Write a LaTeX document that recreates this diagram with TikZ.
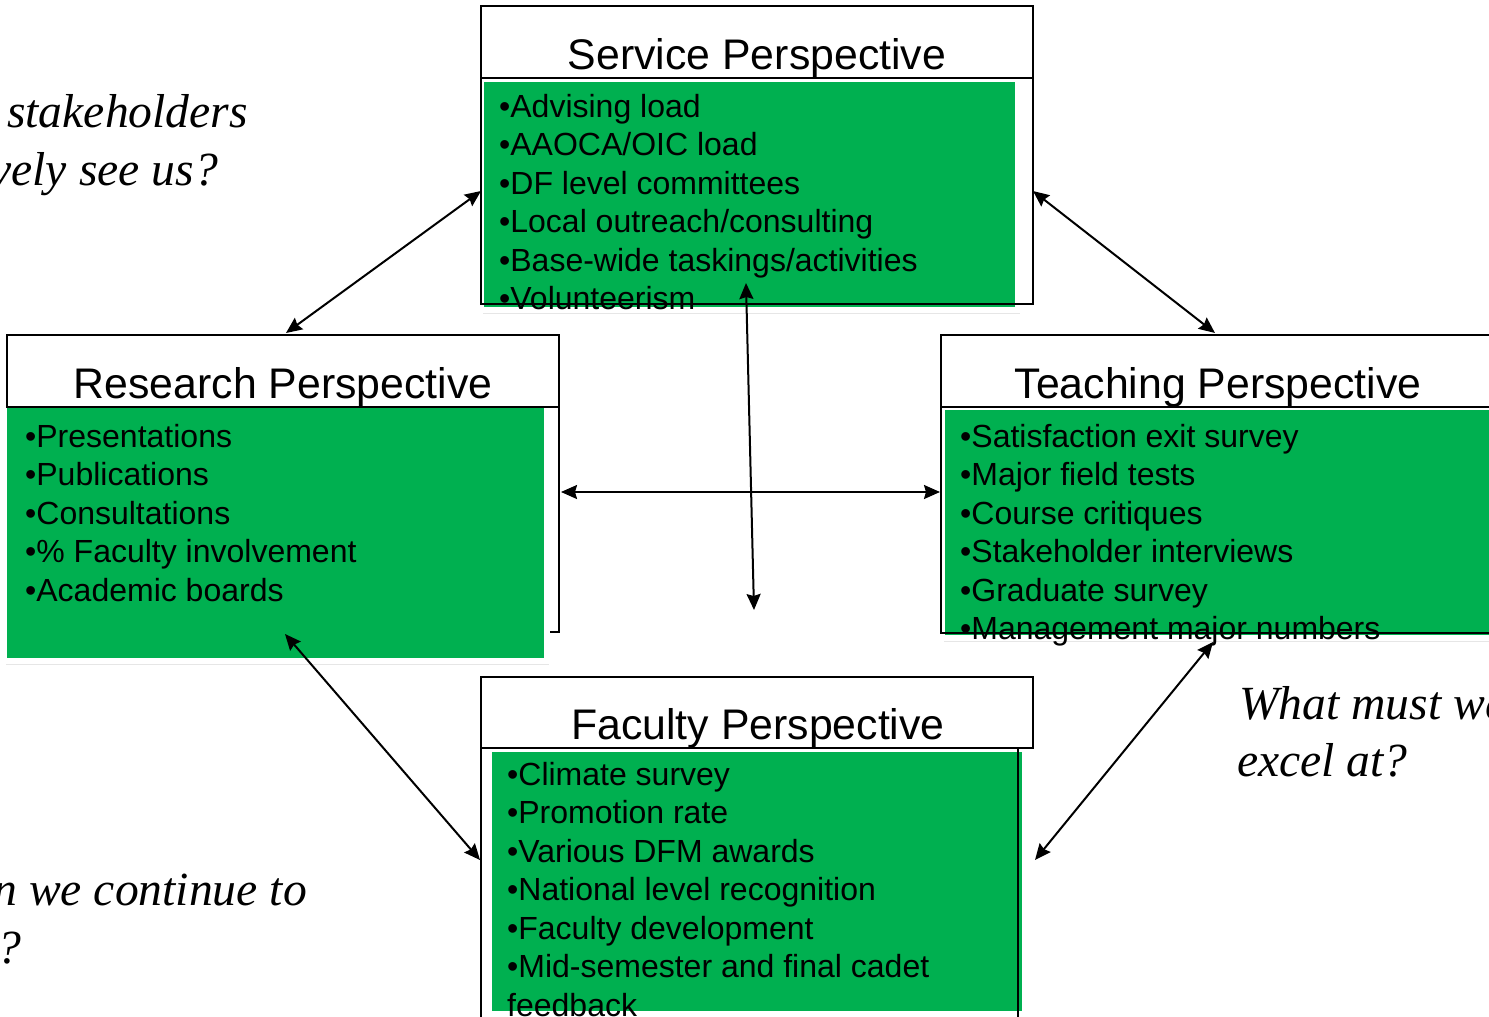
\documentclass[tikz,border=0pt]{standalone}
\usepackage{fontspec}
\setmainfont{Liberation Serif}
\setsansfont{Liberation Sans}
\usetikzlibrary{arrows.meta,shadows}
\definecolor{boxgreen}{RGB}{0,176,80}
\begin{document}
\begin{tikzpicture}[x=1pt,y=-1pt,
  frame/.style={draw=black, line width=1.4pt, inner sep=0pt, outer sep=0pt, anchor=north west},
  titlebox/.style={frame, fill=white},
  greenbox/.style={fill=boxgreen, draw=white, line width=6pt, inner sep=0pt, outer sep=0pt, anchor=north west,
    drop shadow={shadow xshift=2pt, shadow yshift=-4pt, opacity=0.2}},
  heading/.style={font=\sffamily\fontsize{42.8}{50}\selectfont, anchor=base, inner sep=0pt},
  items/.style={font=\sffamily\fontsize{32}{38.5}\selectfont, align=left, anchor=north west, inner sep=0pt},
  question/.style={font=\itshape\fontsize{47.6}{56}\selectfont, inner sep=0pt},
  link/.style={line width=2pt, {Stealth[length=16pt,width=14pt,inset=2pt]}-{Stealth[length=16pt,width=14pt,inset=2pt]}},
]
\useasboundingbox (0,0) rectangle (1489,1017);
\clip (0,0) rectangle (1489,1017);

% Service perspective (top)
\node[greenbox, minimum width=537pt, minimum height=231pt] (svc-green) at (481,79) {};
\node[titlebox, minimum width=552pt, minimum height=72pt] (svc-title) at (481,6) {};
\node[frame, minimum width=552pt, minimum height=226pt] (svc-frame) at (481,78) {};
\node[heading] (svc-head) at (757,69) {Service Perspective};
\node[items] (svc-list) at (499,94) {\textbullet Advising load\\\textbullet AAOCA/OIC load\\\textbullet DF level committees\\\textbullet Local outreach/consulting\\\textbullet Base-wide taskings/activities\\\textbullet Volunteerism};

% Research perspective (left)
\node[frame, minimum width=552pt, minimum height=225pt] (res-frame) at (7,407) {};
\node[greenbox, minimum width=543pt, minimum height=257pt] (res-green) at (4,404) {};
\node[titlebox, minimum width=552pt, minimum height=72pt] (res-title) at (7,335) {};
\node[heading] (res-head) at (283,398) {Research Perspective};
\node[items] (res-list) at (25,424) {\textbullet Presentations\\\textbullet Publications\\\textbullet Consultations\\\textbullet \% Faculty involvement\\\textbullet Academic boards};

% Teaching perspective (right)
\node[greenbox, minimum width=560pt, minimum height=231pt] (tch-green) at (942,407) {};
\node[titlebox, minimum width=552pt, minimum height=72pt] (tch-title) at (941,335) {};
\node[frame, minimum width=552pt, minimum height=226pt] (tch-frame) at (941,407) {};
\node[heading] (tch-head) at (1218,398) {Teaching Perspective};
\node[items] (tch-list) at (960,424) {\textbullet Satisfaction exit survey\\\textbullet Major field tests\\\textbullet Course critiques\\\textbullet Stakeholder interviews\\\textbullet Graduate survey\\\textbullet Management major numbers};

% Faculty perspective (bottom)
\node[greenbox, minimum width=536pt, minimum height=265pt] (fac-green) at (489,749) {};
\node[titlebox, minimum width=552pt, minimum height=71pt] (fac-title) at (481,677) {};
\node[frame, minimum width=537pt, minimum height=300pt] (fac-frame) at (481,748) {};
\node[heading] (fac-head) at (758,739) {Faculty Perspective};
\node[items] (fac-list) at (507,762) {\textbullet Climate survey\\\textbullet Promotion rate\\\textbullet Various DFM awards\\\textbullet National level recognition\\\textbullet Faculty development\\\textbullet Mid-semester and final cadet\\feedback};

% Guiding questions
\node[question, anchor=base west] (q-stake1) at (7,127) {stakeholders};
\node[question, anchor=base east] (q-stake2) at (218,185) {vely see us?};
\node[question, anchor=base east] (q-grow1) at (307,905) {n we continue to};
\node[question, anchor=base east] (q-grow2) at (22,963) {?};
\node[question, anchor=base west] (q-excel1) at (1239,719) {What must we};
\node[question, anchor=base west] (q-excel2) at (1237,776) {excel at?};

% Connector end points
\coordinate (res-top) at (286,333);
\coordinate (tch-top) at (1215,333);
\coordinate (res-side) at (561,492);
\coordinate (tch-side) at (940,492);
\coordinate (svc-low) at (746,283);
\coordinate (fac-up) at (754,610);
\coordinate (res-low) at (285,634);
\coordinate (fac-left) at (480,860);
\coordinate (tch-low) at (1213,642);
\coordinate (fac-right) at (1035,860);

% Two-way links
\draw[link] (svc-frame.west) -- (res-top);
\draw[link] (svc-frame.east) -- (tch-top);
\draw[link] (res-side) -- (tch-side);
\draw[link] (svc-low) -- (fac-up);
\draw[link] (res-low) -- (fac-left);
\draw[link] (tch-low) -- (fac-right);
\end{tikzpicture}
\end{document}
